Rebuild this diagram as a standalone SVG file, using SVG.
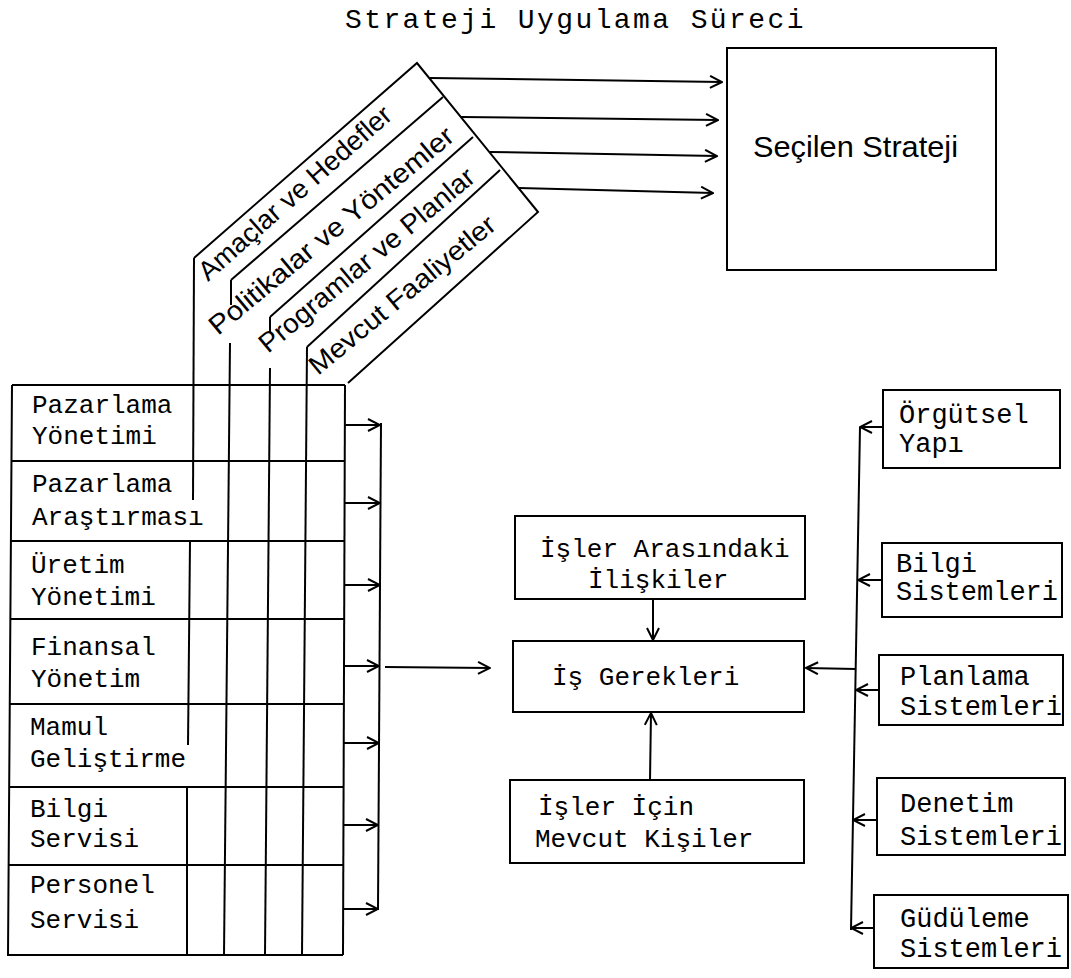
<svg xmlns="http://www.w3.org/2000/svg" width="1071" height="978" viewBox="0 0 1071 978">
<defs>
<marker id="ah" viewBox="0 0 14 14" refX="13" refY="7" markerWidth="14" markerHeight="14" markerUnits="userSpaceOnUse" orient="auto">
<path d="M1,1 L13,7 L1,13" fill="none" stroke="#000" stroke-width="2"/>
</marker>
</defs>
<style>
.ln{stroke:#000;stroke-width:2;fill:none}
.bx{stroke:#000;stroke-width:2;fill:none}
.mono{font-family:"Liberation Mono","DejaVu Sans Mono",monospace;font-size:26px;fill:#000}
.monoR{font-family:"Liberation Mono","DejaVu Sans Mono",monospace;font-size:27px;fill:#000}
.title{font-family:"Liberation Mono","DejaVu Sans Mono",monospace;font-size:28px;letter-spacing:2.4px;fill:#000}
.sans{font-family:"Liberation Sans","DejaVu Sans",sans-serif;font-size:27px;fill:#000}
.arr{stroke:#000;stroke-width:2;fill:none;marker-end:url(#ah)}
</style>
<rect width="1071" height="978" fill="#fff"/>

<g id="title"><text class="title" x="345" y="28">Strateji Uygulama Süreci</text></g>

<g id="strategy-band">
<polyline class="ln" points="194,258 417,63 538,212 348,383"/>
<polyline class="ln" points="443,97 231,280"/>
<polyline class="ln" points="473,137 270,317"/>
<polyline class="ln" points="500,170 307,347"/>
<text class="sans" transform="translate(208,282) rotate(-41.5)" textLength="248" lengthAdjust="spacingAndGlyphs">Amaçlar ve Hedefler</text>
<text class="sans" transform="translate(218,336) rotate(-39.6)" textLength="309" lengthAdjust="spacingAndGlyphs">Politikalar ve Yöntemler</text>
<text class="sans" transform="translate(268,354) rotate(-39.8)" textLength="272" lengthAdjust="spacingAndGlyphs">Programlar ve Planlar</text>
<text class="sans" transform="translate(318,376) rotate(-39.5)" textLength="233" lengthAdjust="spacingAndGlyphs">Mevcut Faaliyetler</text>
</g>

<g id="secilen-strateji">
<rect class="bx" x="727" y="48" width="269" height="222"/>
<text class="sans" x="753" y="157" textLength="205" lengthAdjust="spacingAndGlyphs" style="font-size:29px">Seçilen Strateji</text>
</g>

<g id="table">
<polyline class="ln" points="12,385 345,385"/>
<polyline class="ln" points="12,385 8,955 343,955"/>
<polyline class="ln" points="345,385 343,955"/>
<g id="row-pazarlama-yonetimi"><line class="ln" x1="11" y1="461" x2="345" y2="461"/><text class="mono" x="32" y="413">Pazarlama</text><text class="mono" x="32" y="444">Yönetimi</text></g>
<g id="row-pazarlama-arastirmasi"><line class="ln" x1="11" y1="541" x2="345" y2="541"/><text class="mono" x="32" y="492">Pazarlama</text><text class="mono" x="32" y="525">Araştırması</text></g>
<g id="row-uretim"><line class="ln" x1="10" y1="619" x2="344" y2="619"/><text class="mono" x="31" y="573">Üretim</text><text class="mono" x="31" y="605">Yönetimi</text></g>
<g id="row-finansal"><line class="ln" x1="10" y1="704" x2="344" y2="704"/><text class="mono" x="31" y="655">Finansal</text><text class="mono" x="31" y="687">Yönetim</text></g>
<g id="row-mamul"><line class="ln" x1="9" y1="787" x2="344" y2="787"/><text class="mono" x="30" y="735">Mamul</text><text class="mono" x="30" y="767">Geliştirme</text></g>
<g id="row-bilgi-servisi"><line class="ln" x1="9" y1="865" x2="343" y2="865"/><text class="mono" x="30" y="817">Bilgi</text><text class="mono" x="30" y="847">Servisi</text></g>
<g id="row-personel"><text class="mono" x="30" y="893">Personel</text><text class="mono" x="30" y="928">Servisi</text></g>
</g>

<g id="is-iliskiler">
<rect class="bx" x="515" y="516" width="290" height="83"/>
<text class="mono" x="540" y="557">İşler Arasındaki</text>
<text class="mono" x="588" y="588">İlişkiler</text>
</g>

<g id="is-gerekleri">
<rect class="bx" x="513" y="641" width="291" height="71"/>
<text class="mono" x="552" y="685">İş Gerekleri</text>
</g>

<g id="mevcut-kisiler">
<rect class="bx" x="510" y="780" width="294" height="83"/>
<text class="mono" x="538" y="815">İşler İçin</text>
<text class="mono" x="535" y="847">Mevcut Kişiler</text>
</g>

<g id="orgutsel-yapi">
<rect class="bx" x="883" y="390" width="177" height="78"/>
<text class="monoR" x="899" y="423">Örgütsel</text>
<text class="monoR" x="899" y="452">Yapı</text>
</g>
<g id="bilgi-sistemleri">
<rect class="bx" x="882" y="543" width="180" height="74"/>
<text class="monoR" x="896" y="572">Bilgi</text>
<text class="monoR" x="896" y="600">Sistemleri</text>
</g>
<g id="planlama-sistemleri">
<rect class="bx" x="879" y="655" width="184" height="70"/>
<text class="monoR" x="900" y="685">Planlama</text>
<text class="monoR" x="900" y="715">Sistemleri</text>
</g>
<g id="denetim-sistemleri">
<rect class="bx" x="877" y="778" width="188" height="77"/>
<text class="monoR" x="900" y="812">Denetim</text>
<text class="monoR" x="900" y="845">Sistemleri</text>
</g>
<g id="gudulme-sistemleri">
<rect class="bx" x="874" y="895" width="194" height="73"/>
<text class="monoR" x="900" y="927">Güdüleme</text>
<text class="monoR" x="900" y="957">Sistemleri</text>
</g>

<g id="connectors">
<line class="arr" x1="430" y1="78" x2="722" y2="82"/>
<line class="arr" x1="461" y1="117" x2="718" y2="120"/>
<line class="arr" x1="490" y1="152" x2="717" y2="156"/>
<line class="arr" x1="519" y1="188" x2="713" y2="193"/>
<polyline class="ln" points="194,258 193,500"/>
<polyline class="ln" points="190,542 188,745"/>
<polyline class="ln" points="187,788 187,955"/>
<polyline class="ln" points="231,280 231,305"/>
<polyline class="ln" points="230,343 224,955"/>
<polyline class="ln" points="270,317 270,333"/>
<polyline class="ln" points="270,368 265,955"/>
<polyline class="ln" points="307,347 302,955"/>
<line class="arr" x1="345" y1="425" x2="380" y2="425"/>
<line class="arr" x1="345" y1="503" x2="380" y2="503"/>
<line class="arr" x1="345" y1="585" x2="380" y2="585"/>
<line class="arr" x1="344" y1="666" x2="379" y2="666"/>
<line class="arr" x1="344" y1="743" x2="379" y2="743"/>
<line class="arr" x1="343" y1="825" x2="378" y2="825"/>
<line class="arr" x1="343" y1="909" x2="378" y2="909"/>
<polyline class="ln" points="381,423 378,910"/>
<line class="arr" x1="385" y1="667" x2="490" y2="668"/>
<line class="arr" x1="653" y1="599" x2="653" y2="640"/>
<line class="arr" x1="650" y1="780" x2="651" y2="713"/>
<polyline class="ln" points="860,427 851,930"/>
<line class="arr" x1="856" y1="669" x2="806" y2="668"/>
<line class="arr" x1="883" y1="427" x2="860" y2="427"/>
<line class="arr" x1="882" y1="580" x2="858" y2="580"/>
<line class="arr" x1="879" y1="690" x2="856" y2="690"/>
<line class="arr" x1="877" y1="820" x2="853" y2="820"/>
<line class="arr" x1="874" y1="928" x2="851" y2="928"/>
</g>
</svg>
